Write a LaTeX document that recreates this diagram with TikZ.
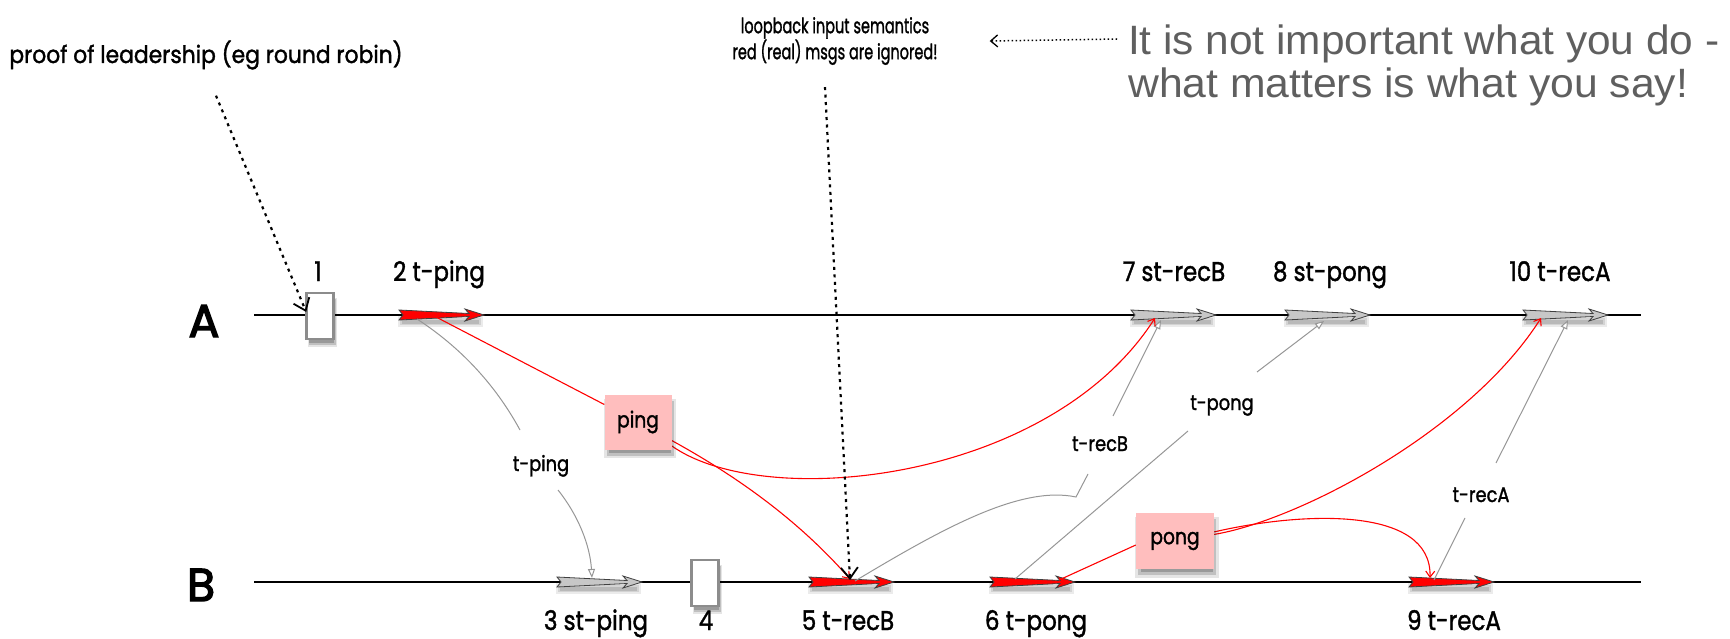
\documentclass[tikz,border=0pt]{standalone}
\usepackage{fontspec}
\usepackage{graphicx}
\usetikzlibrary{arrows.meta,calc,shadows}
\newfontfamily\geofont{Poppins}[FakeBold=1.6]
\newfontfamily\lanefont{Poppins}[FakeBold=3]
\newfontfamily\notefont{Liberation Sans}
\definecolor{sigred}{RGB}{255,0,0}
\definecolor{msgpink}{RGB}{255,190,190}
\definecolor{linkgrey}{RGB}{150,150,150}
\definecolor{notegrey}{RGB}{95,95,95}
% geometric labels are set a little narrower than the font's natural width
\newcommand\geo[1]{\scalebox{0.85}[1]{#1}}
% a message event on a lifeline: tapered arrow with a soft shadow
% #1 name, #2 tail x, #3 lifeline y, #4 fill colour
\newcommand\msgarrow[4]{%
  \node[anchor=west, minimum width=85pt, minimum height=10pt, inner sep=0, outer sep=0] (#1) at (#2,#3) {};
  \begin{scope}[shift={(#2,#3)}]
    \fill[black,opacity=.08] (-1,1) rectangle (84,12);
    \fill[black,opacity=.10] (1,3) rectangle (82,10);
    \fill[black,opacity=.12] (3,4.5) rectangle (80,8.5);
    \filldraw[fill=#4, draw=black!75, line width=.8pt, line join=miter]
      (0,-5) -- (70,-1.5) -- (66,-6) -- (85,0) -- (66,6) -- (70,1.5) -- (0,5) -- (4,0) -- cycle;
  \end{scope}}
\begin{document}
\begin{tikzpicture}[x=1pt,y=-1pt,
  timeline/.style={line width=2.4pt},
  evt/.style={font=\geofont\fontsize{27}{30}\selectfont, anchor=base, inner sep=0},
  tag/.style={font=\geofont\fontsize{21}{24}\selectfont, anchor=base, inner sep=0},
  lane/.style={font=\lanefont\fontsize{46}{50}\selectfont, anchor=base, inner sep=0},
  softshadow/.style={
    general shadow={fill=black,opacity=.10,shadow xshift=2pt,shadow yshift=-6pt,shadow scale=1.08},
    general shadow={fill=black,opacity=.16,shadow xshift=2pt,shadow yshift=-6pt},
    general shadow={fill=black,opacity=.20,shadow xshift=2pt,shadow yshift=-6pt,shadow scale=.92}},
  tickbox/.style={softshadow, draw=black!45, line width=2.6pt, fill=white,
    minimum width=27pt, minimum height=46pt, inner sep=0},
  msgbox/.style={softshadow, fill=msgpink, inner sep=0, font=\geofont\fontsize{22}{24}\selectfont},
  redline/.style={draw=sigred, line width=1.1pt},
  greyline/.style={draw=linkgrey, line width=1pt},
  redtip/.style={-{Straight Barb[length=6pt,width=9pt]}},
  greytip/.style={-{Triangle[length=9pt,width=7pt,fill=white]}},
  dotlink/.style={line width=2.2pt, dash pattern=on 3pt off 4.5pt,
    -{Straight Barb[length=11pt,width=17pt,line width=1.8pt]}},
  notelink/.style={line width=1.5pt, dash pattern=on 1.5pt off 2.5pt,
    -{Straight Barb[length=7pt,width=12pt,line width=1.3pt]}}
]
\useasboundingbox (0,0) rectangle (1730,639);

% lifelines
\node[lane] (laneA) at (204,337) {A};
\node[lane] (laneB) at (201,601) {B};
\coordinate (A0) at (254,315); \coordinate (A1) at (1641,315);
\coordinate (B0) at (254,582); \coordinate (B1) at (1641,582);
\draw[timeline] (A0) -- (A1);
\draw[timeline] (B0) -- (B1);

% leadership steps
\node[tickbox] (t1) at (320,316) {};
\node[tickbox] (t4) at (705,583) {};

% message events
\msgarrow{a2}{399}{315}{sigred}
\msgarrow{a7}{1131}{315}{black!22}
\msgarrow{a8}{1285}{315}{black!22}
\msgarrow{a10}{1523}{315}{black!22}
\msgarrow{b3}{557}{582}{black!22}
\msgarrow{b5}{809}{582}{sigred}
\msgarrow{b6}{990}{582}{sigred}
\msgarrow{b9}{1409}{582}{sigred}

% event numbers
\node[evt] (l1) at (318,281) {\geo{1}};
\node[evt] (l2) at (439,281) {\geo{2 t-ping}};
\node[evt] (l7) at (1174,281) {\geo{7 st-recB}};
\node[evt] (l8) at (1330,281) {\geo{8 st-pong}};
\node[evt] (l10) at (1560,281) {\geo{10 t-recA}};
\node[evt] (l3) at (596,630) {\geo{3 st-ping}};
\node[evt] (l4) at (706,630) {\geo{4}};
\node[evt] (l5) at (848,630) {\geo{5 t-recB}};
\node[evt] (l6) at (1036,630) {\geo{6 t-pong}};
\node[evt] (l9) at (1454,630) {\geo{9 t-recA}};

% transition tags and their link ends
\node[tag] (tping) at (541,471) {\geo{t-ping}};
\node[tag] (trecB) at (1100,451) {\geo{t-recB}};
\node[tag] (tpong) at (1222,410) {\geo{t-pong}};
\node[tag] (trecA) at (1481,502) {\geo{t-recA}};
\coordinate (tpingIn) at (520,430);  \coordinate (tpingOut) at (558,490);
\coordinate (trecBIn) at (1088,474); \coordinate (trecBOut) at (1113,416);
\coordinate (tpongIn) at (1188,431); \coordinate (tpongOut) at (1257,372);
\coordinate (trecAIn) at (1465,518); \coordinate (trecAOut) at (1496,463);

% transition links
\draw[greyline] ($(a2.west)+(18,4)$) .. controls (460,347) and (495,384) .. (tpingIn);
\draw[greyline,greytip] (tpingOut) .. controls (578,515) and (590,545) .. ($(b3.west)+(35,-4)$);
\draw[greyline] ($(b5.west)+(46,-1)$) .. controls (940,530) and (1020,485) .. (1076,497) -- (trecBIn);
\draw[greyline,greytip] (trecBOut) -- ($(a7.west)+(30,5)$);
\draw[greyline] ($(b6.west)+(25,-3)$) -- (tpongIn);
\draw[greyline,greytip] (tpongOut) -- ($(a8.west)+(39,6)$);
\draw[greyline] ($(b9.west)+(25,-2)$) -- (trecAIn);
\draw[greyline,greytip] (trecAOut) -- ($(a10.west)+(45,5)$);

% message boxes (placed first so that the links can attach to them)
\path (638,422) node[minimum width=67pt, minimum height=55pt, inner sep=0] (ping) {};
\path (1175,541) node[minimum width=78pt, minimum height=56pt, inner sep=0] (pong) {};

% real messages
\draw[redline] ($(a2.west)+(37,2)$) -- (ping);
\draw[redline,redtip] (ping) .. controls (740,478) and (800,522) .. ($(b5.west)+(41,-3)$);
\draw[redline,redtip] (ping) .. controls (765,512) and (1050,482) .. ($(a7.west)+(24,3)$);
\draw[redline] ($(b6.west)+(69,-2)$) -- ($(pong.west)+(0,4)$);
\draw[redline,redtip] (pong) .. controls (1300,512) and (1432,505) .. ($(b9.west)+(21,-4)$);
\draw[redline,redtip] (pong) .. controls (1300,520) and (1470,430) .. ($(a10.west)+(18,3)$);

\node[msgbox, minimum width=67pt, minimum height=55pt] (pingbox) at (ping) {\geo{ping}};
\node[msgbox, minimum width=78pt, minimum height=56pt] (pongbox) at (pong) {\geo{pong}};

% annotations
\node[font=\geofont\fontsize{24}{26}\selectfont, anchor=base, inner sep=0] (proof) at (206,63)
  {\scalebox{.91}[1]{proof of leadership (eg round robin)}};
\node[font=\geofont\fontsize{21}{26}\selectfont, align=center, anchor=north, inner sep=0] (loop) at (835,17)
  {\scalebox{.69}[1]{loopback input semantics}\\\scalebox{.69}[1]{red (real) msgs are ignored!}};
\node[font=\notefont\fontsize{41}{43}\selectfont, text=notegrey, align=left, anchor=north west, inner sep=0] (note) at (1128,25)
  {\resizebox{591pt}{\height}{It is not important what you do -}\\\resizebox{560pt}{\height}{what matters is what you say!}};

\draw[dotlink] ($(proof.south)+(10,26)$) -- ($(t1.west)+(1,-4)$);
\draw[dotlink] ($(loop.south)+(-10,22)$) -- ($(b5.west)+(41,-2)$);
\draw[notelink] ($(note.north west)+(-11,14)$) -- ($(loop.east)+(52,0)$);
\end{tikzpicture}
\end{document}
